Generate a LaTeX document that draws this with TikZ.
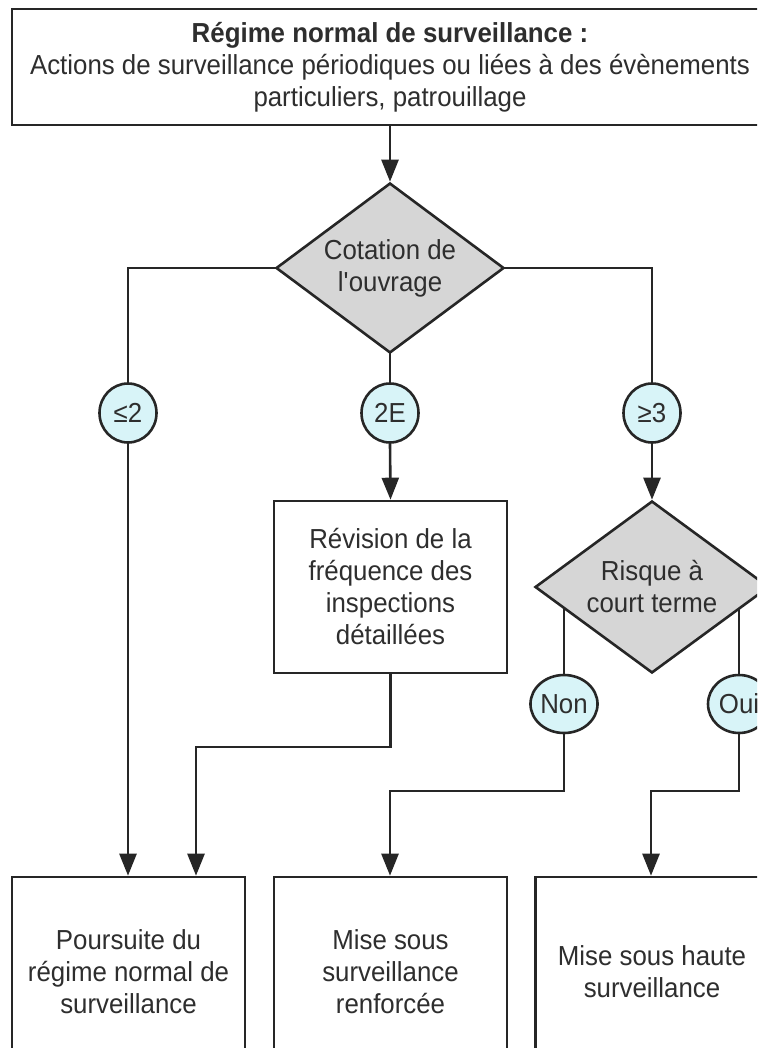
\documentclass[tikz,border=0pt]{standalone}
\usepackage{fontspec}
\setmainfont{Liberation Sans}[FakeStretch=0.94]
\usetikzlibrary{shapes.geometric,arrows.meta,backgrounds}
\definecolor{ink}{HTML}{262626}
\definecolor{txt}{HTML}{2E2E2E}
\definecolor{dfill}{HTML}{D6D6D6}
\definecolor{cfill}{HTML}{D8F4F8}
\begin{document}
\begin{tikzpicture}[x=1pt,y=-1pt,
  every node/.style={font=\fontsize{27.5}{32}\selectfont, text=txt, align=center},
  box/.style={draw=ink, line width=2.6pt, fill=white, rectangle, inner sep=0pt},
  decision/.style={draw=ink, line width=2.6pt, fill=dfill, diamond, inner sep=0pt},
  label/.style={draw=ink, line width=2.6pt, fill=cfill, ellipse, inner sep=0pt},
  conn/.style={draw=ink, line width=2.6pt},
  arr/.style={conn, -{Triangle[length=22pt,width=17pt]}}]
\useasboundingbox (0,0) rectangle (757,1048);
\clip (0,0) rectangle (757,1048);
% nodes
\node[box, minimum width=756pt, minimum height=116pt] (top) at (390,67)
  {\textbf{Régime normal de surveillance :}\\Actions de surveillance périodiques ou liées à des évènements\\particuliers, patrouillage};
\node[decision, minimum width=228pt, minimum height=170pt, aspect=1.34] (cot) at (390,268) {Cotation de\\l\textquotesingle ouvrage};
\node[label, minimum width=57pt, minimum height=59pt] (le2) at (128,413) {≤2};
\node[label, minimum width=57pt, minimum height=59pt] (e2) at (390,413) {2E};
\node[label, minimum width=57pt, minimum height=59pt] (ge3) at (652,413) {≥3};
\node[box, minimum width=233pt, minimum height=172pt] (rev) at (390.5,587)
  {Révision de la\\fréquence des\\inspections\\détaillées};
\node[decision, minimum width=234pt, minimum height=172pt, aspect=1.36] (risk) at (652,587) {Risque à\\court terme};
\node[label, minimum width=60pt, minimum height=58pt] (non) at (564,704) {Non};
\node[label, minimum width=62pt, minimum height=58pt] (oui) at (739,704) {Oui};
\node[box, minimum width=233pt, minimum height=190pt] (out1) at (128.5,972) {Poursuite du\\régime normal de\\surveillance};
\node[box, minimum width=233pt, minimum height=190pt] (out2) at (390.5,972) {Mise sous\\surveillance\\renforcée};
\node[box, minimum width=233pt, minimum height=190pt] (out3) at (652,972) {Mise sous haute\\surveillance};
% connectors
\begin{pgfonlayer}{background}
\draw[arr] (top.south) -- (cot.north);
\draw[conn] (cot.center) -| (le2.north);
\draw[conn] (cot.center) -| (ge3.north);
\draw[conn] (cot.center) -- (e2.north);
\draw[arr] (le2.south) -- (le2.south |- out1.north);
\draw[arr] (e2.south) -- (rev.north);
\draw[arr] (ge3.south) -- (risk.north);
\draw[conn] (non.north) -- (non.north |- risk.center);
\draw[conn] (oui.north) -- (oui.north |- risk.center);
\coordinate (c1) at (196,747);
\coordinate (c2) at (390,791);
\coordinate (c3) at (651,791);
\draw[arr] (rev.south) |- (c1) -- (c1 |- out1.north);
\draw[arr] (non.south) |- (c2) -- (c2 |- out2.north);
\draw[arr] (oui.south) |- (c3) -- (c3 |- out3.north);
\end{pgfonlayer}
\end{tikzpicture}
\end{document}
